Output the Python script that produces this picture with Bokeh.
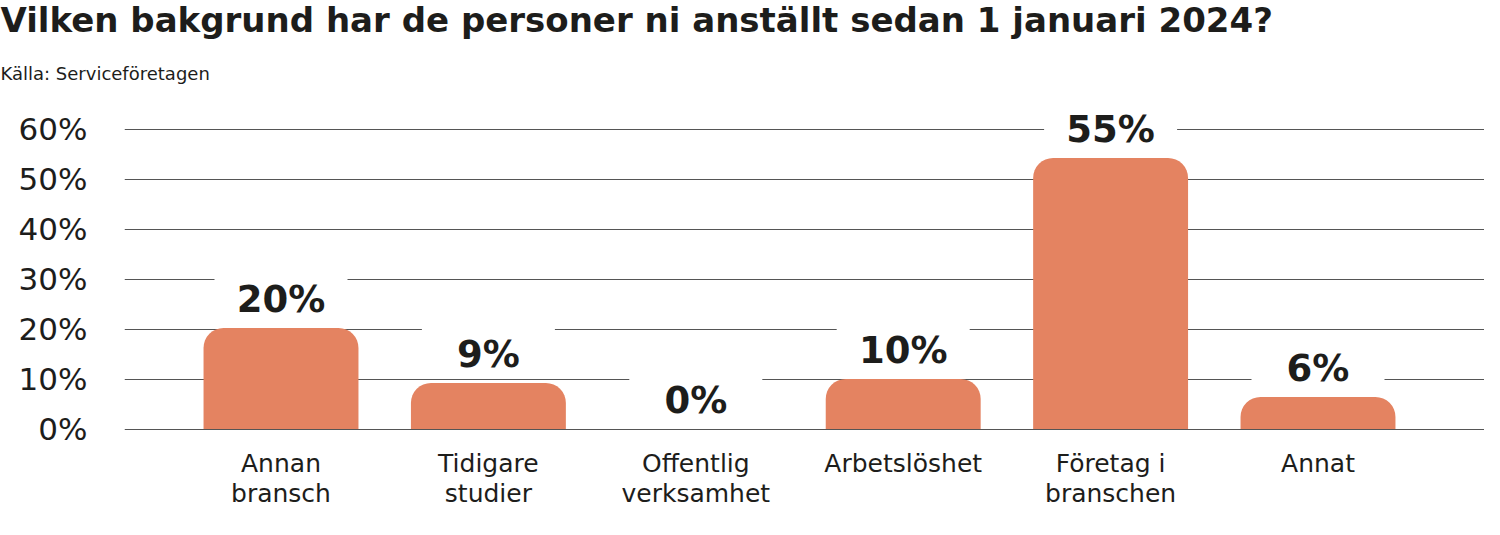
from bokeh.plotting import figure
from bokeh.models import Title, FixedTicker, Range1d, ColumnDataSource
from bokeh.core.properties import value
from bokeh.embed import file_html
from bokeh.resources import INLINE

# ---- data ----
categories = ["Annan\nbransch", "Tidigare\nstudier", "Offentlig\nverksamhet",
              "Arbetslöshet", "Företag i\nbranschen", "Annat"]
shares = [20.2, 9.2, 0.0, 10.0, 54.2, 6.4]
share_labels = ["20%", "9%", "0%", "10%", "55%", "6%"]
y_ticks = [0, 10, 20, 30, 40, 50, 60]
y_tick_labels = ["0%", "10%", "20%", "30%", "40%", "50%", "60%"]

FONT = "DejaVu Sans"
TXT = "#1d1d1b"
BAR = "#E48361"

Y0, Y1 = -0.5, 63.7
FRAME_H = 321
PX = FRAME_H / (Y1 - Y0)  # pixels per unit

xs = list(range(len(categories)))

p = figure(width=1484, frame_height=FRAME_H,
           output_backend="svg", toolbar_location=None, title=None,
           x_range=Range1d(-0.7546, 5.8028), y_range=Range1d(Y0, Y1),
           min_border_left=124, min_border_right=0, min_border_bottom=8,
           min_border_top=110)
p.outline_line_color = None
p.background_fill_color = "white"
p.border_fill_color = "white"

sub = Title(text="Källa: Serviceföretagen", text_font=FONT, text_font_size="18px",
            text_font_style="normal", text_color=TXT, align="left", offset=-124,
            standoff=54)
main = Title(text="Vilken bakgrund har de personer ni anställt sedan 1 januari 2024?",
             text_font=FONT, text_font_size="34px", text_font_style="bold",
             text_color=TXT, align="left", offset=-124, standoff=-12)
p.add_layout(sub, "above")
p.add_layout(main, "above")

# grid
p.xgrid.grid_line_color = None
p.ygrid.ticker = FixedTicker(ticks=y_ticks)
p.ygrid.grid_line_color = "#555555"
p.ygrid.grid_line_width = 1

# y axis
p.yaxis.ticker = FixedTicker(ticks=y_ticks)
p.yaxis.major_label_overrides = {t: l for t, l in zip(y_ticks, y_tick_labels)}
p.yaxis.axis_line_color = None
p.yaxis.major_tick_line_color = None
p.yaxis.minor_tick_line_color = None
p.yaxis.major_label_standoff = 31
p.yaxis.major_label_text_font = FONT
p.yaxis.major_label_text_font_size = "31px"
p.yaxis.major_label_text_color = TXT

# x axis
p.xaxis.ticker = FixedTicker(ticks=xs)
p.xaxis.major_label_overrides = {i: c for i, c in enumerate(categories)}
p.xaxis.axis_line_color = None
p.xaxis.major_tick_line_color = None
p.xaxis.minor_tick_line_color = None
p.xaxis.major_label_standoff = 11
p.xaxis.major_label_text_font = FONT
p.xaxis.major_label_text_font_size = "25px"
p.xaxis.major_label_text_color = TXT
p.xaxis.major_label_text_line_height = 1.06

src = ColumnDataSource(dict(
    x=xs, top=shares, lab=share_labels,
    boxy=[v + 32.5 / PX for v in shares],
))

p.vbar(x="x", top="top", bottom=0, width=0.747, source=src, fill_color=BAR,
       line_color=None, border_radius=(20, 20, 0, 0))

p.rect(x="x", y="boxy", width=133, height=43, width_units="screen",
       height_units="screen", source=src, fill_color="white", line_color=None)

p.text(x="x", y="top", text="lab", source=src, y_offset=-29,
       text_align="center", text_baseline="middle",
       text_font=value(FONT), text_font_style="bold", text_font_size="37px",
       text_color=TXT)

open("out.html", "w").write(file_html(p, INLINE))
